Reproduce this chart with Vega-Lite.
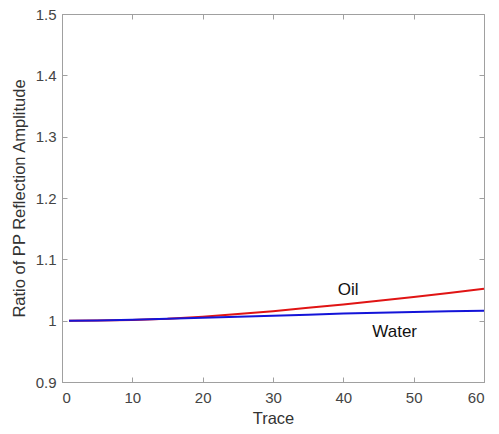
{
  "$schema": "https://vega.github.io/schema/vega-lite/v6.json",
  "autosize": "none",
  "width": 422,
  "height": 368,
  "padding": {"left": 62, "top": 14, "right": 15, "bottom": 52},
  "background": "white",
  "view": {"stroke": "#a0a0a0", "strokeWidth": 1},
  "config": {
    "font": "Liberation Sans",
    "axis": {
      "domainColor": "#a0a0a0",
      "tickColor": "#a0a0a0",
      "grid": false,
      "labelFont": "Liberation Sans",
      "labelFontSize": 15,
      "labelColor": "#444444",
      "titleFont": "Liberation Sans",
      "titleFontSize": 16.5,
      "titleFontWeight": "normal",
      "titleColor": "#333333"
    }
  },
  "datasets": {
    "curves": [
      {"trace": 1, "ratio": 1.0, "medium": "Oil"},
      {"trace": 5, "ratio": 1.0003, "medium": "Oil"},
      {"trace": 10, "ratio": 1.0012, "medium": "Oil"},
      {"trace": 15, "ratio": 1.003, "medium": "Oil"},
      {"trace": 20, "ratio": 1.0065, "medium": "Oil"},
      {"trace": 25, "ratio": 1.011, "medium": "Oil"},
      {"trace": 30, "ratio": 1.0155, "medium": "Oil"},
      {"trace": 35, "ratio": 1.021, "medium": "Oil"},
      {"trace": 40, "ratio": 1.0265, "medium": "Oil"},
      {"trace": 45, "ratio": 1.0325, "medium": "Oil"},
      {"trace": 50, "ratio": 1.0385, "medium": "Oil"},
      {"trace": 55, "ratio": 1.045, "medium": "Oil"},
      {"trace": 60, "ratio": 1.052, "medium": "Oil"},
      {"trace": 1, "ratio": 1.0, "medium": "Water"},
      {"trace": 5, "ratio": 1.0004, "medium": "Water"},
      {"trace": 10, "ratio": 1.0015, "medium": "Water"},
      {"trace": 15, "ratio": 1.003, "medium": "Water"},
      {"trace": 20, "ratio": 1.0047, "medium": "Water"},
      {"trace": 25, "ratio": 1.0064, "medium": "Water"},
      {"trace": 30, "ratio": 1.0082, "medium": "Water"},
      {"trace": 35, "ratio": 1.0098, "medium": "Water"},
      {"trace": 40, "ratio": 1.0115, "medium": "Water"},
      {"trace": 45, "ratio": 1.013, "medium": "Water"},
      {"trace": 50, "ratio": 1.0142, "medium": "Water"},
      {"trace": 55, "ratio": 1.0152, "medium": "Water"},
      {"trace": 60, "ratio": 1.016, "medium": "Water"}
    ],
    "labels": [
      {"trace": 40.7, "ratio": 1.0506, "label": "Oil"},
      {"trace": 47.3, "ratio": 0.982, "label": "Water"}
    ]
  },
  "layer": [
    {
      "data": {"name": "curves"},
      "mark": {"type": "line", "strokeWidth": 2},
      "encoding": {
        "x": {
          "field": "trace", "type": "quantitative",
          "scale": {"domain": [0, 60], "nice": false, "zero": false},
          "axis": {"title": "Trace", "values": [0, 10, 20, 30, 40, 50, 60], "tickSize": -5, "labelPadding": 13, "titlePadding": 5}
        },
        "y": {
          "field": "ratio", "type": "quantitative",
          "scale": {"domain": [0.9, 1.5], "nice": false, "zero": false},
          "axis": {"title": "Ratio of PP Reflection Amplitude", "values": [0.9, 1.0, 1.1, 1.2, 1.3, 1.4, 1.5], "format": "~g", "tickSize": -5, "labelPadding": 11, "titlePadding": 8}
        },
        "color": {
          "field": "medium", "type": "nominal",
          "scale": {"domain": ["Oil", "Water"], "range": ["#e01414", "#1414d8"]},
          "legend": null
        }
      }
    },
    {
      "data": {"name": "labels"},
      "mark": {"type": "text", "font": "Liberation Sans", "fontSize": 17, "color": "#111111", "align": "center", "baseline": "middle"},
      "encoding": {
        "x": {
          "field": "trace", "type": "quantitative",
          "axis": {"orient": "top", "labels": false, "title": null, "domain": false, "values": [0, 10, 20, 30, 40, 50, 60], "tickSize": -5}
        },
        "y": {
          "field": "ratio", "type": "quantitative",
          "axis": {"orient": "right", "labels": false, "title": null, "domain": false, "values": [0.9, 1.0, 1.1, 1.2, 1.3, 1.4, 1.5], "tickSize": -5}
        },
        "text": {"field": "label"}
      }
    }
  ],
  "resolve": {"axis": {"x": "independent", "y": "independent"}}
}
